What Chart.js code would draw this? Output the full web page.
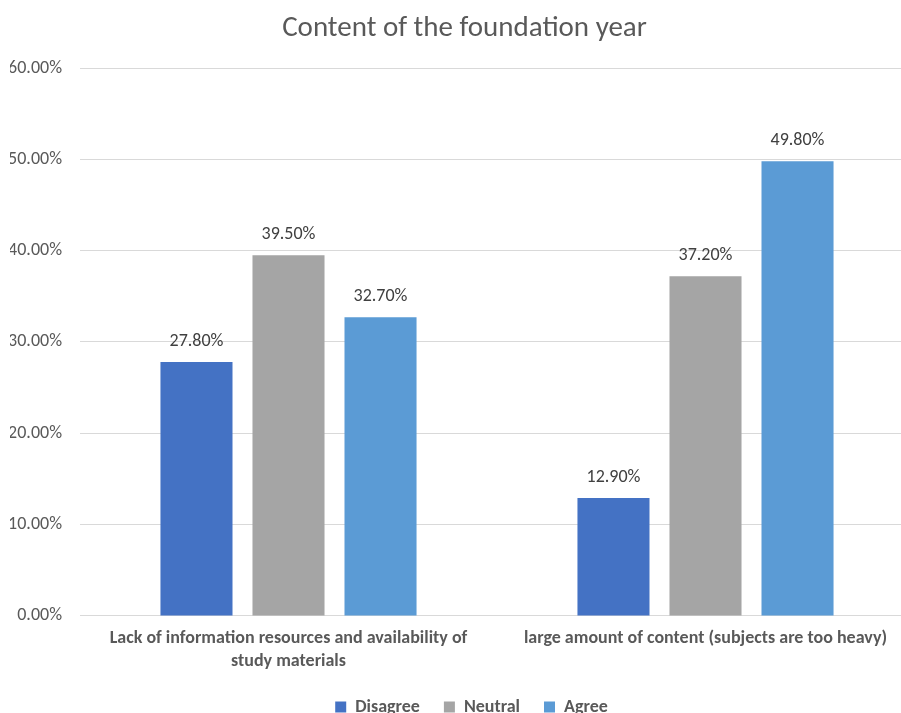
<!DOCTYPE html>
<html>
<head>
<meta charset="utf-8">
<script src="https://cdn.jsdelivr.net/npm/chart.js@4/dist/chart.umd.min.js"></script>
<style>
  html, body { margin: 0; padding: 0; background: #fff; overflow: hidden; }
  #wrap { position: absolute; left: 10px; top: 0; width: 891px; height: 713px; overflow: hidden; }
  #chart { position: absolute; left: -15px; top: 0; }
</style>
</head>
<body>
<div id="wrap"><canvas id="chart" width="925" height="737"></canvas></div>
<script>
const categories = [
  ['Lack of information resources and availability of', 'study materials'],
  'large amount of content (subjects are too heavy)'
]
const seriesNames = ['Disagree', 'Neutral', 'Agree']
const disagree = [27.8, 12.9]
const neutral = [39.5, 37.2]
const agree = [32.7, 49.8]
const colors = ['#4472C4', '#A5A5A5', '#5B9BD5']

const FONT = 'Carlito, Lato, "Open Sans", sans-serif'
const pct = v => v.toFixed(2) + '%'

// draw the value above each bar
const valueLabels = {
  id: 'valueLabels',
  afterDatasetsDraw (chart) {
    const ctx = chart.ctx
    ctx.save()
    ctx.font = '18px ' + FONT
    ctx.fillStyle = '#404040'
    ctx.textAlign = 'center'
    ctx.textBaseline = 'middle'
    chart.data.datasets.forEach((ds, i) => {
      chart.getDatasetMeta(i).data.forEach((bar, j) => {
        ctx.fillText(pct(ds.data[j]), bar.x, bar.y - 21)
      })
    })
    ctx.restore()
  }
}

// title and legend sit a little off the default spots in the original
const nudge = {
  id: 'nudge',
  afterLayout (chart) {
    if (chart.titleBlock) { chart.titleBlock.left += 10; chart.titleBlock.right += 10 }
    if (chart.legend) {
      chart.legend.left += 17; chart.legend.right += 17
      chart.legend.top -= 11; chart.legend.bottom -= 11
    }
  }
}

new Chart(document.getElementById('chart'), {
  type: 'bar',
  data: {
    labels: categories,
    datasets: [disagree, neutral, agree].map((d, i) => ({
      label: seriesNames[i],
      data: d,
      backgroundColor: colors[i],
      categoryPercentage: 0.662,
      barPercentage: 0.783
    }))
  },
  options: {
    responsive: false,
    animation: false,
    layout: { padding: { left: 0, right: 6, top: 0, bottom: 0 } },
    plugins: {
      title: {
        display: true,
        text: 'Content of the foundation year',
        color: '#595959',
        font: { family: FONT, size: 29, weight: 'normal', lineHeight: 1.2 },
        padding: { top: 11.6, bottom: 21.6 }
      },
      legend: {
        position: 'bottom',
        labels: {
          boxWidth: 11,
          boxHeight: 11,
          padding: 24,
          color: '#595959',
          font: { family: FONT, size: 18, weight: 'bold' }
        }
      },
      tooltip: { enabled: false }
    },
    scales: {
      x: {
        grid: { display: false, drawTicks: false },
        border: { color: '#d9d9d9' },
        ticks: {
          padding: 11.5,
          color: '#595959',
          maxRotation: 0,
          autoSkip: false,
          font: { family: FONT, size: 18, weight: 'bold', lineHeight: 1.28 }
        }
      },
      y: {
        min: 0,
        max: 60,
        grid: { color: '#d9d9d9', drawTicks: false },
        border: { display: false },
        afterFit (scale) { scale.width = 85 },
        ticks: {
          stepSize: 10,
          padding: 18,
          color: '#595959',
          font: { family: FONT, size: 18 },
          callback: v => pct(v)
        }
      }
    }
  },
  plugins: [valueLabels, nudge]
})
</script>
</body>
</html>
